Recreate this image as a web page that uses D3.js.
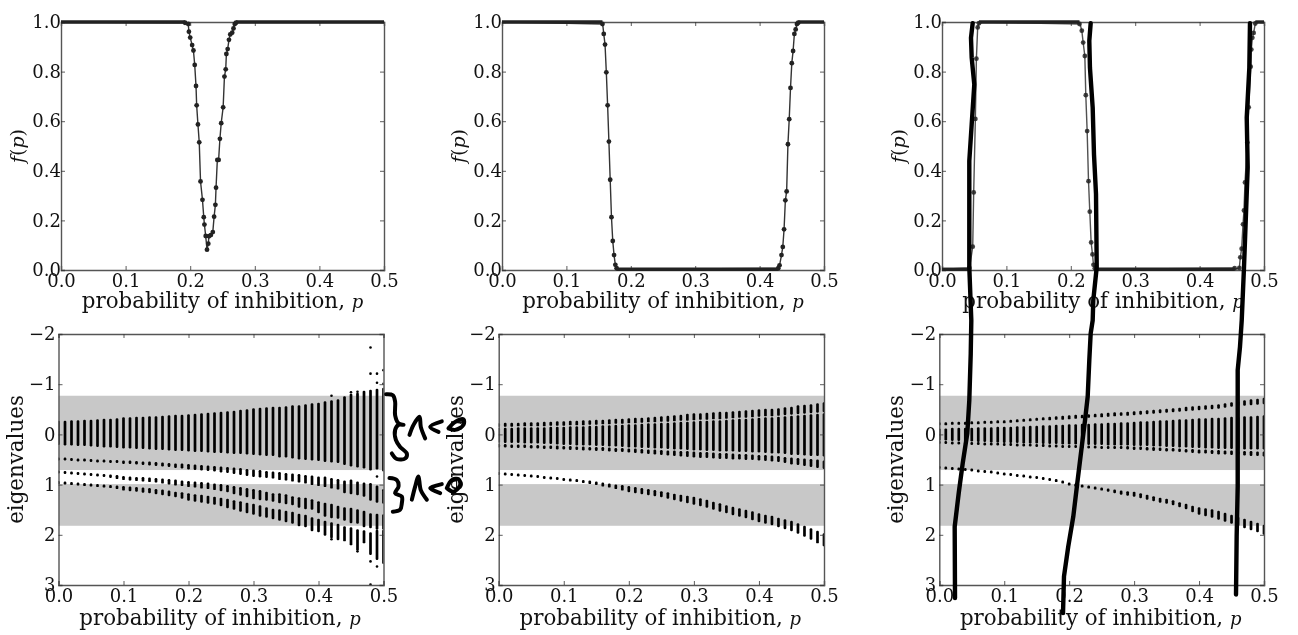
<!DOCTYPE html>
<html>
<head>
<meta charset="utf-8">
<script src="https://cdn.jsdelivr.net/npm/d3@7"></script>
<style>
html, body { margin: 0; padding: 0; background: #fff; overflow: hidden; }
svg { display: block; filter: blur(0.35px); }
text { font-family: "DejaVu Serif", serif; fill: #111; }
</style>
</head>
<body>
<svg width="1298" height="635"></svg>
<script>
// tick labels
const xTicks = [0, 0.1, 0.2, 0.3, 0.4, 0.5]
const fTicks = [0, 0.2, 0.4, 0.6, 0.8, 1]
const eigTicks = [-2, -1, 0, 1, 2, 3]

// f(p), top row. plateaus are [p start, p end, level]
const dip1P = [0.192,0.197,0.198,0.200,0.203,0.205,0.207,0.209,0.210,0.212,0.214,0.216,0.219,0.221,0.222,0.224,0.226,0.228,0.229,0.232,0.235,0.237,0.239,0.240,0.242,0.244,0.246,0.248,0.251,0.253,0.255,0.256,0.258,0.260,0.262,0.265,0.267,0.269,0.271]
const dip1F = [0.997,0.992,0.961,0.937,0.907,0.885,0.827,0.742,0.664,0.587,0.515,0.357,0.283,0.213,0.183,0.137,0.082,0.106,0.136,0.141,0.153,0.215,0.263,0.332,0.444,0.444,0.529,0.592,0.656,0.780,0.809,0.871,0.891,0.928,0.950,0.957,0.974,0.992,0.997]
const plateau1 = [[0, 0.192, 1], [0.271, 0.5, 1]]

const dip2P = [0.156,0.158,0.160,0.162,0.164,0.166,0.168,0.170,0.172,0.174,0.176,0.178,0.429,0.431,0.434,0.436,0.438,0.440,0.442,0.444,0.446,0.448,0.450,0.452,0.454,0.456,0.458,0.460]
const dip2F = [0.992,0.952,0.909,0.797,0.664,0.518,0.364,0.213,0.117,0.060,0.021,0.007,0.007,0.019,0.060,0.093,0.164,0.281,0.317,0.507,0.608,0.734,0.834,0.883,0.952,0.970,0.992,0.997]
const plateau2 = [[0, 0.156, 1], [0.178, 0.429, 0.003], [0.460, 0.5, 1]]

const dip3P = [0.0425,0.0477,0.0492,0.0518,0.0534,0.0554,0.0575,0.2135,0.2171,0.2192,0.2218,0.2233,0.2254,0.2275,0.2295,0.2316,0.2337,0.2352,0.2373,0.4544,0.4617,0.4632,0.4653,0.4674,0.4689,0.4705,0.4741,0.4762,0.4793,0.4803,0.4819,0.4839,0.4865]
const dip3F = [0.008,0.094,0.313,0.609,0.852,0.978,0.995,0.992,0.965,0.917,0.863,0.705,0.560,0.358,0.235,0.111,0.063,0.021,0.007,0.007,0.008,0.051,0.086,0.184,0.240,0.353,0.514,0.656,0.820,0.889,0.936,0.956,0.994]
const plateau3 = [[0, 0.0425, 0.003], [0.0575, 0.2135, 1], [0.2373, 0.4544, 0.003], [0.4865, 0.5, 1]]

// eigenvalues, bottom row. one value per column
const eigP = [0,0.01,0.02,0.03,0.04,0.05,0.06,0.07,0.08,0.09,0.1,0.11,0.12,0.13,0.14,0.15,0.16,0.17,0.18,0.19,0.2,0.21,0.22,0.23,0.24,0.25,0.26,0.27,0.28,0.29,0.3,0.31,0.32,0.33,0.34,0.35,0.36,0.37,0.38,0.39,0.4,0.41,0.42,0.43,0.44,0.45,0.46,0.47,0.48,0.49,0.5]
const greyBands = [[-0.77, 0.71], [0.99, 1.82]]

const a1Top = [-.27,-.27,-.28,-.28,-.29,-.29,-.30,-.31,-.31,-.32,-.34,-.34,-.35,-.35,-.36,-.36,-.37,-.38,-.39,-.39,-.40,-.41,-.42,-.43,-.44,-.45,-.46,-.47,-.49,-.50,-.52,-.53,-.54,-.55,-.55,-.56,-.58,-.58,-.60,-.62,-.63,-.66,-.68,-.70,-.76,-.81,-.83,-.87,-.89,-.91,-.93]
const a1Bot = [.21,.22,.22,.23,.23,.24,.25,.26,.26,.27,.28,.28,.29,.29,.30,.31,.31,.32,.33,.33,.34,.35,.35,.36,.37,.37,.38,.39,.39,.40,.41,.42,.43,.43,.46,.46,.48,.50,.51,.52,.53,.55,.56,.57,.61,.64,.66,.68,.72,.70,.74]
const b1Top = [.46,.46,.47,.48,.48,.49,.50,.50,.51,.51,.52,.52,.53,.54,.54,.55,.56,.57,.58,.58,.59,.60,.61,.62,.63,.64,.65,.66,.67,.69,.70,.71,.73,.74,.75,.77,.78,.79,.81,.82,.84,.84,.87,.89,.92,.90,.94,.96,.97,1.02,1.09]
const b1Bot = [.50,.50,.51,.52,.52,.53,.54,.55,.56,.57,.59,.59,.60,.61,.62,.63,.64,.65,.67,.68,.70,.71,.72,.73,.74,.76,.77,.79,.81,.83,.85,.86,.87,.88,.91,.92,.94,.96,.98,1.01,1.03,1.05,1.08,1.10,1.17,1.19,1.21,1.24,1.32,1.36,1.38]
const c1Top = [.72,.73,.74,.75,.76,.77,.78,.79,.80,.81,.83,.84,.85,.85,.86,.87,.88,.89,.90,.92,.93,.94,.95,.96,.98,.99,1.01,1.03,1.05,1.07,1.09,1.11,1.14,1.17,1.17,1.19,1.23,1.25,1.26,1.29,1.33,1.36,1.38,1.42,1.45,1.46,1.49,1.52,1.57,1.58,1.59]
const c1Bot = [.77,.78,.78,.79,.81,.82,.84,.85,.87,.89,.91,.92,.93,.94,.95,.96,.98,1.00,1.02,1.03,1.05,1.06,1.08,1.09,1.11,1.13,1.15,1.19,1.22,1.25,1.29,1.31,1.32,1.34,1.37,1.39,1.41,1.46,1.49,1.50,1.57,1.64,1.67,1.68,1.72,1.77,1.78,1.85,1.87,1.90,1.90]
const d1Top = [.93,.94,.95,.96,.97,.98,.99,1.00,1.01,1.02,1.03,1.04,1.05,1.06,1.07,1.09,1.10,1.12,1.14,1.15,1.17,1.19,1.20,1.22,1.24,1.26,1.28,1.31,1.33,1.36,1.38,1.41,1.45,1.48,1.49,1.52,1.54,1.58,1.60,1.65,1.68,1.72,1.75,1.78,1.83,1.85,1.89,1.91,1.95,1.90,1.90]
const d1Bot = [.97,.98,.99,1.00,1.01,1.02,1.04,1.05,1.07,1.09,1.12,1.13,1.14,1.16,1.17,1.19,1.21,1.23,1.25,1.28,1.32,1.34,1.36,1.38,1.40,1.43,1.47,1.50,1.54,1.57,1.60,1.64,1.66,1.69,1.72,1.75,1.78,1.83,1.85,1.93,1.95,2.02,2.07,2.11,2.13,2.21,2.31,2.17,2.40,2.50,2.58]
const outliers1 = [[.48,-1.73],[.48,-1.21],[.49,-1.21],[.49,-1.03],[.5,-1.28],[.5,-1.01],[.42,-.77],[.45,-.84],[.46,-.85],[.49,.84],[.48,2.53],[.49,2.63],[.48,2.99],[.42,2.09],[.46,2.33]]

const t2Top = [-.22,-.23,-.23,-.23,-.24,-.24,-.24,-.25,-.25,-.26,-.26,-.27,-.27,-.28,-.28,-.29,-.29,-.30,-.31,-.31,-.32,-.33,-.33,-.34,-.35,-.36,-.37,-.38,-.39,-.41,-.42,-.42,-.43,-.44,-.45,-.45,-.46,-.47,-.48,-.49,-.50,-.51,-.51,-.52,-.54,-.55,-.58,-.59,-.60,-.62,-.64]
const t2Bot = [-.15,-.15,-.15,-.16,-.16,-.16,-.16,-.16,-.17,-.17,-.17,-.18,-.18,-.18,-.19,-.19,-.20,-.20,-.21,-.21,-.22,-.22,-.23,-.24,-.24,-.25,-.25,-.26,-.27,-.27,-.28,-.29,-.29,-.30,-.30,-.31,-.32,-.33,-.33,-.34,-.35,-.36,-.36,-.37,-.38,-.39,-.40,-.41,-.42,-.43,-.44]
const m2Top = [-.13,-.13,-.13,-.14,-.14,-.14,-.14,-.14,-.15,-.15,-.15,-.16,-.16,-.16,-.17,-.17,-.18,-.18,-.19,-.19,-.20,-.20,-.21,-.22,-.22,-.23,-.23,-.24,-.25,-.25,-.26,-.27,-.27,-.28,-.28,-.29,-.30,-.31,-.31,-.32,-.33,-.34,-.34,-.35,-.36,-.37,-.38,-.39,-.40,-.41,-.42]
const m2Bot = [.16,.17,.17,.17,.18,.18,.18,.19,.19,.20,.21,.21,.22,.22,.22,.23,.23,.24,.24,.25,.26,.26,.27,.27,.28,.28,.29,.30,.30,.31,.32,.32,.33,.33,.34,.34,.34,.35,.35,.36,.36,.37,.38,.38,.39,.41,.41,.42,.43,.43,.44]
const l2Top = [.19,.19,.20,.20,.20,.21,.21,.22,.22,.22,.23,.23,.24,.24,.25,.25,.25,.26,.27,.27,.28,.28,.29,.30,.30,.31,.32,.32,.33,.33,.34,.35,.35,.36,.37,.37,.38,.39,.39,.40,.41,.41,.42,.43,.45,.46,.47,.48,.49,.50,.52]
const l2Bot = [.26,.26,.27,.27,.27,.28,.28,.29,.29,.30,.30,.31,.31,.32,.32,.33,.33,.34,.35,.35,.36,.37,.38,.39,.40,.41,.42,.43,.44,.45,.46,.47,.47,.48,.49,.49,.50,.50,.51,.51,.52,.53,.54,.55,.57,.60,.61,.63,.65,.67,.69]
const d2Top = [.75,.76,.77,.78,.79,.80,.81,.83,.84,.85,.87,.88,.89,.91,.92,.94,.96,.98,1.00,1.01,1.03,1.05,1.07,1.09,1.11,1.13,1.15,1.18,1.20,1.22,1.24,1.27,1.30,1.34,1.37,1.41,1.44,1.47,1.50,1.53,1.57,1.60,1.62,1.66,1.69,1.72,1.77,1.82,1.87,1.92,1.97]
const d2Bot = [.77,.78,.79,.80,.81,.82,.84,.85,.87,.89,.92,.93,.95,.97,.99,1.01,1.04,1.06,1.09,1.12,1.15,1.17,1.19,1.21,1.23,1.25,1.28,1.31,1.34,1.37,1.40,1.43,1.46,1.50,1.54,1.57,1.61,1.64,1.67,1.71,1.75,1.78,1.81,1.85,1.89,1.93,1.98,2.04,2.10,2.17,2.23]

const t3Top = [-.24,-.24,-.25,-.25,-.25,-.26,-.26,-.27,-.27,-.28,-.28,-.29,-.30,-.31,-.32,-.33,-.34,-.35,-.36,-.37,-.38,-.39,-.39,-.40,-.41,-.42,-.43,-.44,-.44,-.45,-.46,-.47,-.48,-.49,-.50,-.51,-.52,-.53,-.55,-.56,-.57,-.58,-.59,-.60,-.62,-.64,-.66,-.68,-.70,-.71,-.73]
const t3Bot = [-.20,-.20,-.21,-.21,-.21,-.22,-.22,-.23,-.23,-.24,-.24,-.25,-.25,-.26,-.27,-.27,-.28,-.28,-.29,-.29,-.30,-.31,-.32,-.33,-.34,-.34,-.35,-.36,-.37,-.37,-.38,-.39,-.40,-.41,-.42,-.43,-.44,-.45,-.46,-.47,-.48,-.49,-.50,-.51,-.53,-.55,-.56,-.57,-.58,-.59,-.60]
const m3Top = [-.12,-.12,-.13,-.13,-.13,-.13,-.14,-.14,-.14,-.15,-.15,-.15,-.16,-.16,-.17,-.17,-.18,-.18,-.19,-.19,-.20,-.20,-.21,-.21,-.22,-.22,-.23,-.23,-.24,-.24,-.25,-.26,-.26,-.27,-.28,-.28,-.29,-.30,-.30,-.31,-.32,-.32,-.33,-.33,-.34,-.35,-.35,-.36,-.36,-.37,-.38]
const m3Bot = [.12,.12,.13,.13,.14,.14,.15,.15,.16,.16,.17,.17,.17,.18,.18,.18,.19,.19,.19,.20,.20,.20,.21,.21,.21,.21,.22,.22,.22,.22,.23,.23,.23,.24,.24,.25,.25,.26,.26,.27,.27,.28,.28,.29,.29,.29,.29,.30,.30,.30,.30]
const l3Top = [.13,.13,.14,.14,.15,.15,.15,.16,.16,.16,.17,.17,.18,.18,.18,.19,.19,.20,.20,.21,.21,.21,.22,.22,.22,.23,.23,.23,.23,.23,.24,.24,.25,.25,.26,.27,.27,.28,.29,.29,.30,.30,.31,.31,.32,.32,.33,.33,.33,.34,.34]
const l3Bot = [.16,.16,.17,.17,.18,.18,.18,.19,.19,.20,.20,.20,.21,.21,.22,.22,.23,.23,.24,.24,.25,.25,.26,.26,.27,.27,.28,.29,.29,.30,.31,.31,.32,.33,.33,.34,.34,.35,.36,.37,.38,.38,.39,.40,.40,.41,.41,.42,.43,.43,.44]
const d3Top = [.63,.64,.65,.66,.67,.68,.70,.71,.72,.74,.76,.77,.79,.80,.82,.83,.85,.87,.89,.92,.96,.98,1.00,1.02,1.04,1.06,1.08,1.10,1.12,1.13,1.14,1.17,1.20,1.23,1.26,1.28,1.31,1.35,1.38,1.42,1.45,1.47,1.49,1.52,1.56,1.60,1.64,1.68,1.72,1.76,1.80]
const d3Bot = [.66,.67,.68,.69,.70,.71,.72,.74,.75,.77,.80,.81,.83,.84,.86,.87,.89,.91,.94,.97,1.01,1.03,1.05,1.08,1.10,1.12,1.14,1.17,1.20,1.22,1.24,1.27,1.30,1.33,1.36,1.38,1.41,1.45,1.49,1.55,1.60,1.63,1.66,1.70,1.74,1.78,1.83,1.87,1.91,1.95,2.00]

// pen strokes written over the figure, as [p, eigenvalue] of the panel below them
const pen3a = [[.0242,3.26],[.0237,1.84],[.0299,1.17],[.036,.58],[.0431,-.02],[.0462,-.68],[.0484,-1.61],[.0493,-2.27],[.0462,-3.33],[.0462,-5.45],[.0499,-6.18],[.0539,-6.97],[.0499,-7.5],[.0488,-7.9],[.0514,-8.19]]
const pen3b = [[.1905,3.56],[.192,2.83],[.1986,2.23],[.2063,1.64],[.2125,.97],[.2193,.25],[.2244,-.28],[.2285,-.75],[.231,-1.48],[.2331,-2.01],[.2362,-2.27],[.2371,-2.67],[.2424,-3.33],[.2413,-4.79],[.2382,-5.58],[.2362,-6.51],[.232,-7.3],[.231,-7.84],[.2331,-8.19]]
const pen3c = [[.4569,3.19],[.4579,2.03],[.4595,1.04],[.4595,-1.28],[.463,-1.74],[.4657,-2.27],[.4692,-3.33],[.4749,-5.32],[.4734,-6.31],[.4774,-7.3],[.4784,-8.19]]
const brace1 = [[.504,-.8],[.5144,-.78],[.5179,-.65],[.5179,-.38],[.5231,-.22],[.5308,-.19],[.5231,-.19],[.5179,-.09],[.519,.11],[.5256,.25],[.5359,.38],[.5333,.48],[.5205,.49],[.5128,.38]]
const lambda1 = [[.54,.01],[.5462,-.19],[.5554,-.35],[.5574,-.15],[.5641,.08]]
const less1 = [[.5897,-.26],[.5718,-.15],[.5846,-.05]]
const zero1 = [[.6,-.12],[.6103,-.25],[.6231,-.3],[.6231,-.19],[.6103,-.09],[.6,-.12]]
const brace2 = [[.5092,.87],[.5205,.91],[.5231,1.04],[.5179,1.17],[.5282,1.24],[.5282,1.37],[.5256,1.5],[.5144,1.54]]
const lambda2 = [[.5436,1.3],[.5487,1.04],[.5538,.84],[.5574,1.11],[.5667,1.3]]
const less2 = [[.5897,.99],[.5718,1.07],[.5872,1.17]]
const zero2 = [[.5974,1.07],[.6051,.91],[.6154,.89],[.6179,1.01],[.6077,1.14],[.5974,1.07]]

const svg = d3.select('svg')
const fmtX = d3.format('.1f')
const fmtY = d => (d < 0 ? '\u2212' + Math.abs(d) : d)

// axes with inward ticks on all four sides, like matplotlib
const frame = (g, x, y, yFormat, yTicks, xPad, yPad) => {
    const [x0, x1] = x.range()
    const [y0, y1] = [y(y.domain()[0]), y(y.domain()[1])]
    const yTop = Math.min(y0, y1)
    const yBot = Math.max(y0, y1)
    const sides = [
        [d3.axisBottom(x).tickValues(xTicks).tickSize(-4).tickPadding(xPad).tickFormat(fmtX), `translate(0,${yBot})`],
        [d3.axisTop(x).tickValues(xTicks).tickSize(-4).tickFormat(''), `translate(0,${yTop})`],
        [d3.axisLeft(y).tickValues(yTicks).tickSize(-4).tickPadding(yPad).tickFormat(yFormat), `translate(${x0},0)`],
        [d3.axisRight(y).tickValues(yTicks).tickSize(-4).tickFormat(''), `translate(${x1},0)`]
    ]
    sides.forEach(s => {
        const a = g.append('g').attr('transform', s[1]).call(s[0])
        a.selectAll('.domain').attr('stroke', '#555').attr('stroke-width', 1.4)
        a.selectAll('line').attr('stroke', '#333').attr('stroke-width', 0.8)
        a.selectAll('text').style('font-size', '18px').style('font-family', '"DejaVu Serif", serif').attr('fill', '#111')
    })
}

const xLabel = (g, cx, y) => {
    const t = g.append('text').attr('x', cx).attr('y', y).attr('text-anchor', 'middle').style('font-size', '21.4px')
    t.append('tspan').text('probability of inhibition, ')
    t.append('tspan').attr('font-style', 'italic').style('font-size', '18px').text('p')
}

const fPanel = (left, right, pts, fs, plateaus, opacity) => {
    const g = svg.append('g')
    const x = d3.scaleLinear().domain([0, 0.5]).range([left, right])
    const y = d3.scaleLinear().domain([0, 1]).range([270, 22])
    const line = d3.line().x(d => x(d[0])).y(d => y(d[1]))
    const all = pts.map((p, i) => [p, fs[i]])
    plateaus.forEach(a => all.push([a[0], a[2]], [a[1], a[2]]))
    all.sort((a, b) => a[0] - b[0])
    frame(g, x, y, fmtX, fTicks, 4, 0)
    g.append('path').attr('d', line(all)).attr('fill', 'none').attr('stroke', '#333').attr('stroke-width', 1.4).attr('opacity', opacity)
    g.selectAll('.plateau').data(plateaus).enter().append('line').attr('class', 'plateau')
        .attr('x1', d => x(d[0])).attr('x2', d => x(d[1]))
        .attr('y1', d => y(d[2])).attr('y2', d => y(d[2]))
        .attr('stroke', '#222').attr('stroke-width', 3.4)
    g.selectAll('.pt').data(pts).enter().append('circle').attr('class', 'pt')
        .attr('cx', d => x(d)).attr('cy', (d, i) => y(fs[i])).attr('r', 2.4)
        .attr('fill', '#222').attr('opacity', opacity)
    xLabel(g, (left + right) / 2, 308)
    const lab = g.append('text').attr('transform', `translate(${left - 37},146) rotate(-90)`).attr('text-anchor', 'middle').style('font-size', '19px')
    lab.append('tspan').attr('font-style', 'italic').text('f')
    lab.append('tspan').text('(')
    lab.append('tspan').attr('font-style', 'italic').text('p')
    lab.append('tspan').text(')')
}

const eigPanel = (left, right, clipId, bands, outliers) => {
    const g = svg.append('g')
    const x = d3.scaleLinear().domain([0, 0.5]).range([left, right])
    const y = d3.scaleLinear().domain([-2, 3]).range([334, 585])
    svg.append('clipPath').attr('id', clipId).append('rect')
        .attr('x', left).attr('y', 334).attr('width', right - left).attr('height', 251)
    const plot = g.append('g').attr('clip-path', `url(#${clipId})`)
    plot.selectAll('.grey').data(greyBands).enter().append('rect').attr('class', 'grey')
        .attr('x', left).attr('width', right - left)
        .attr('y', d => y(d[0])).attr('height', d => y(d[1]) - y(d[0]))
        .attr('fill', '#c8c8c8')
    bands.forEach(b => {
        plot.append('g').selectAll('rect').data(eigP).enter().append('rect')
            .attr('x', d => x(d) - 1.35).attr('width', 2.7).attr('rx', 1.2)
            .attr('y', (d, i) => y(b[0][i]))
            .attr('height', (d, i) => Math.max(3, y(b[1][i]) - y(b[0][i])))
            .attr('fill', '#000')
    })
    plot.selectAll('.out').data(outliers).enter().append('circle').attr('class', 'out')
        .attr('cx', d => x(d[0])).attr('cy', d => y(d[1])).attr('r', 1.3).attr('fill', '#000')
    frame(g, x, y, fmtY, eigTicks, 4, 3)
    xLabel(g, (left + right) / 2 - 1, 625)
    g.append('text').attr('transform', `translate(${left - 36},459.5) rotate(-90)`).attr('text-anchor', 'middle')
        .style('font-size', '21.4px').text('eigenvalues')
    return {x, y}
}

fPanel(61, 384, dip1P, dip1F, plateau1, 1)
fPanel(502, 824, dip2P, dip2F, plateau2, 1)
fPanel(942, 1264, dip3P, dip3F, plateau3, 0.85)

const s1 = eigPanel(58.5, 383.5, 'clipA', [[a1Top, a1Bot], [b1Top, b1Bot], [c1Top, c1Bot], [d1Top, d1Bot]], outliers1)
eigPanel(498.7, 824, 'clipB', [[t2Top, t2Bot], [m2Top, m2Bot], [l2Top, l2Bot], [d2Top, d2Bot]], [])
const s3 = eigPanel(939.3, 1264, 'clipC', [[t3Top, t3Bot], [m3Top, m3Bot], [l3Top, l3Bot], [d3Top, d3Bot]], [])

// handwriting goes on last, over everything
const pen = (s, pts, width, curve) => {
    const line = d3.line().x(d => s.x(d[0])).y(d => s.y(d[1])).curve(curve)
    svg.append('path').attr('d', line(pts)).attr('fill', 'none').attr('stroke', '#000')
        .attr('stroke-width', width).attr('stroke-linecap', 'round').attr('stroke-linejoin', 'round')
}
;[pen3a, pen3b, pen3c].forEach(p => pen(s3, p, 4.4, d3.curveLinear))
;[brace1, lambda1, less1, zero1, brace2, lambda2, less2, zero2].forEach(p => pen(s1, p, 4, d3.curveCatmullRom))
</script>
</body>
</html>
